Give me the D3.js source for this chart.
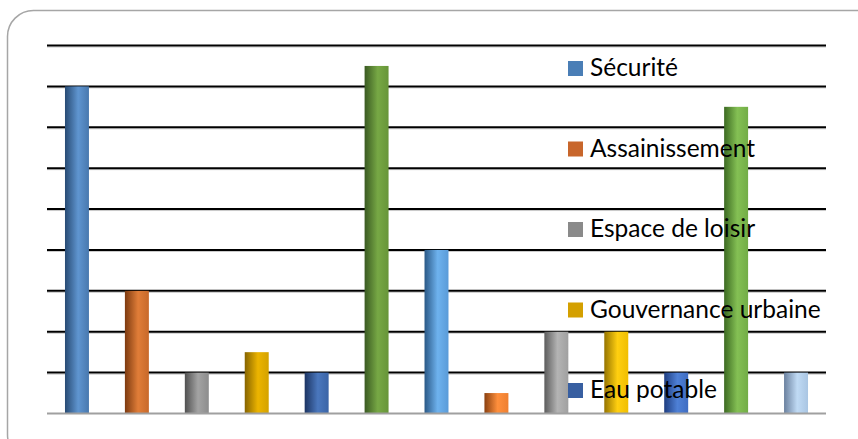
<!DOCTYPE html>
<html><head><meta charset="utf-8">
<script src="https://cdn.jsdelivr.net/npm/d3@7"></script>
<style>body{margin:0;background:#fff;}svg{display:block;}</style>
</head><body>
<script>
// Data
const categories = ["Sécurité","Assainissement","Espace de loisir","Gouvernance urbaine","Eau potable","Série 6","Série 7","Série 8","Série 9","Série 10","Série 11","Série 12","Série 13"];
const values = [8, 3, 1, 1.5, 1, 8.5, 4, 0.5, 2, 2, 1, 7.5, 1];
const legendLabels = ["Sécurité","Assainissement","Espace de loisir","Gouvernance urbaine","Eau potable"];
const yTicks = [0,1,2,3,4,5,6,7,8,9];
// bar gradients: [left, highlight, right]
const barColors = [
  ["#274a73","#5f95d0","#4878ae"],
  ["#7d3a10","#e07d38","#c8692a"],
  ["#505050","#a3a3a3","#8c8c8c"],
  ["#866400","#ecb400","#d4a200"],
  ["#1c3462","#4a77bd","#3a64a6"],
  ["#3a5a22","#77a845","#679538"],
  ["#2a5886","#6eb2ee","#5a9bd8"],
  ["#8a4010","#ff8f3c","#ee7f30"],
  ["#5c5c5c","#b4b4b4","#a0a0a0"],
  ["#957400","#ffcf10","#f0be00"],
  ["#1e3d80","#4e80d6","#3e6cc2"],
  ["#3c6a22","#84c054","#72ad46"],
  ["#6a809e","#c0daf4","#a9c5e2"]
];
const legendColors = ["#4a7eb6","#c8662b","#8a8a8a","#d4a000","#385fa1"];

const W = 858, H = 439;
const svg = d3.select("body").append("svg").attr("width", W).attr("height", H);

// frame
svg.append("rect").attr("x",7.5).attr("y",10.5).attr("width",890).attr("height",450)
  .attr("rx",26).attr("fill","none").attr("stroke","#a6a6a6").attr("stroke-width",1.5);

const x = d3.scaleBand().domain(d3.range(values.length)).range([47, 826]).paddingInner(0.6).paddingOuter(0.3);
const y = d3.scaleLinear().domain([0, 9]).range([413.5, 45.5]);

const defs = svg.append("defs");
barColors.forEach((c,i)=>{
  const g = defs.append("linearGradient").attr("id","g"+i).attr("x1","0").attr("x2","1").attr("y1","0").attr("y2","0");
  g.append("stop").attr("offset","0").attr("stop-color",c[0]);
  g.append("stop").attr("offset","0.55").attr("stop-color",c[1]);
  g.append("stop").attr("offset","1").attr("stop-color",c[2]);
});

// gridlines
const grid = svg.append("g");
yTicks.filter(t=>t>0).forEach(t=>{
  grid.append("line").attr("x1",47).attr("x2",826).attr("y1",y(t)+1.5).attr("y2",y(t)+1.5)
    .attr("stroke","#c8c8c8").attr("stroke-width",1);
  grid.append("line").attr("x1",47).attr("x2",826).attr("y1",y(t)).attr("y2",y(t))
    .attr("stroke","#000").attr("stroke-width",2);
});

// bars
svg.append("g").selectAll("rect").data(values).join("rect")
  .attr("x",(d,i)=>x(i)).attr("width",x.bandwidth())
  .attr("y",d=>y(d)).attr("height",d=>y(0)-y(d))
  .attr("fill",(d,i)=>"url(#g"+i+")");

// baseline
svg.append("line").attr("x1",47).attr("x2",826).attr("y1",y(0)).attr("y2",y(0))
  .attr("stroke","#a0a0a0").attr("stroke-width",2);

// legend
const lg = svg.append("g");
legendLabels.forEach((l,i)=>{
  const by = 76 + i*80.5;
  lg.append("rect").attr("x",568).attr("y",by-15).attr("width",15).attr("height",15).attr("fill",legendColors[i]);
  lg.append("text").attr("x",590).attr("y",by).text(l)
    .attr("font-family","Lato, 'Open Sans', sans-serif").attr("font-size",24.5).attr("fill","#000");
});
</script>
</body></html>
